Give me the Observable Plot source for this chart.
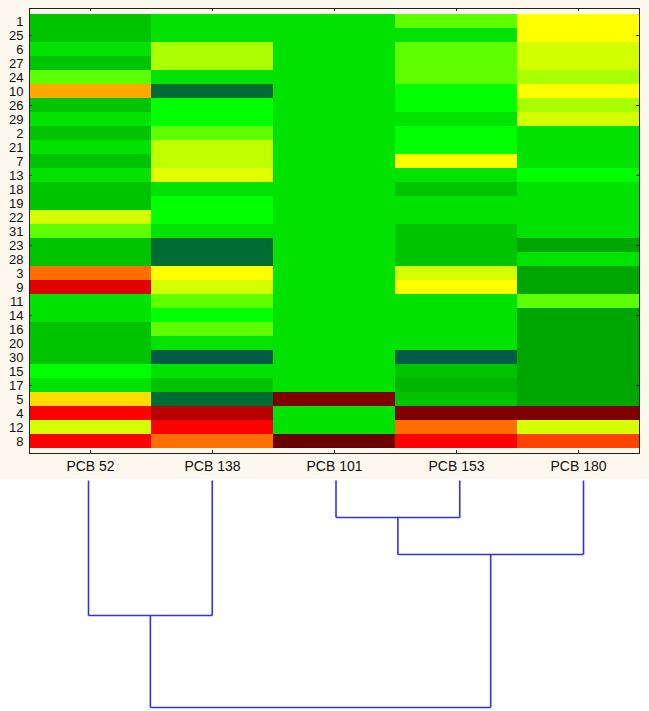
<!DOCTYPE html>
<html><head><meta charset="utf-8">
<script src="https://cdn.jsdelivr.net/npm/d3@7"></script>
<script src="https://cdn.jsdelivr.net/npm/@observablehq/plot@0.6"></script>
<style>
body{margin:0;background:#fff;}
#chart svg{display:block;}
</style></head><body><div id="chart"></div>
<script>
// Rows (samples) in clustered order, top to bottom
const samples = ["1","25","6","27","24","10","26","29","2","21","7","13","18","19","22","31","23","28","3","9","11","14","16","20","30","15","17","5","4","12","8"];
const compounds = ["PCB 52","PCB 138","PCB 101","PCB 153","PCB 180"];
// Relative level per cell (0 = lowest, 18 = highest)
const pcb52  = [3,3,4,3,6,11,3,4,3,4,3,4,3,3,8,6,3,3,12,15,4,4,3,3,3,5,4,10,14,8,14];
const pcb138 = [4,4,7,7,4,1,5,5,6,7.5,7.5,8.3,4,5,5,4,1,1,9,8,6,5,6,4,0,4,3,1,16,14,12];
const pcb101 = [4,4,4,4,4,4,4,4,4,4,4,4,4,4,4,4,4,4,4,4,4,4,4,4,4,4,4,17,4,4,18];
const pcb153 = [6,4,6,6,6,5,5,4,5,5,9,4,3,4,4,3,3,3,8,9,4,4,4,4,0,3,2.5,3,17,12,14];
const pcb180 = [9,9,8,8,7,9,7,8,4,4,4,5,4,4,4,4,2,4,2,2,6,2,2,2,2,2,2,2,17,8,13];
const series = [pcb52, pcb138, pcb101, pcb153, pcb180];
// Colour for each level
const levelColors = ["#005c48","#006c34","#00a600","#00c400","#00e200","#00ff00","#5eff00","#aaff00","#d4ff00","#ffff00","#ffdc00","#ffa800","#ff6e00","#ff4200","#ff0000","#e00000","#b40000","#800000","#6c0000"];
const tickRows = ["25","26","13","23","14","17"];
// Dendrogram of compounds (linkage distances)
const merges = [
  {id:"m1", a:"PCB 101", b:"PCB 153", height:0.163},
  {id:"m2", a:"m1", b:"PCB 180", height:0.326},
  {id:"m3", a:"PCB 52", b:"PCB 138", height:0.595},
  {id:"m4", a:"m3", b:"m2", height:1.0}
];

const cells = compounds.flatMap((c, j) => samples.map((s, i) => ({compound: c, sample: s, level: series[j][i]})));

const W = 649, H1 = 479, ML = 29, MR = 10, MT = 8, MB = 26;
const pw = W - ML - MR, ph = H1 - MT - MB;
const font = "'Liberation Sans', Arial, sans-serif";

const heat = Plot.plot({
  width: W, height: H1,
  marginLeft: ML, marginRight: MR, marginTop: MT, marginBottom: MB,
  style: {background: "#fdf8ee", fontFamily: font, fontSize: "14px", color: "#111"},
  x: {domain: compounds, padding: 0, label: null},
  y: {domain: samples, padding: 0, label: null},
  color: {type: "linear", domain: d3.range(levelColors.length), range: levelColors, interpolate: "rgb"},
  marks: [
    Plot.cell(cells, {x: "compound", y: "sample", fill: "level"}),
    Plot.frame({stroke: "#222", strokeWidth: 1}),
    Plot.tickY(tickRows, {y: d => d, insetRight: pw - 3, stroke: "#222"}),
    Plot.tickY(tickRows, {y: d => d, insetLeft: pw - 3, stroke: "#222"}),
    Plot.tickX(compounds, {x: d => d, insetBottom: ph - 3, stroke: "#222"}),
    Plot.tickX(compounds, {x: d => d, insetTop: ph - 3, stroke: "#222"}),
    Plot.axisX({anchor: "bottom", tickSize: 0, tickPadding: 8, fontSize: 14, label: null}),
    Plot.axisY({anchor: "left", tickSize: 0, tickPadding: 6, fontSize: 13, label: null})
  ]
});

// Dendrogram segments derived from merges
const nodeX = new Map(compounds.map((d, i) => [d, i]));
const nodeH = new Map(compounds.map(d => [d, 0]));
const segments = [];
for (const m of merges) {
  const xa = nodeX.get(m.a), xb = nodeX.get(m.b), ha = nodeH.get(m.a), hb = nodeH.get(m.b);
  segments.push({x1: xa, y1: ha, x2: xa, y2: m.height});
  segments.push({x1: xb, y1: hb, x2: xb, y2: m.height});
  segments.push({x1: xa, y1: m.height, x2: xb, y2: m.height});
  nodeX.set(m.id, (xa + xb) / 2);
  nodeH.set(m.id, m.height);
}

const dendro = Plot.plot({
  width: W, height: 711 - H1,
  margin: 0,
  style: {background: "#fff"},
  x: {type: "linear", domain: [0, compounds.length - 1], range: [88, 583], axis: null},
  y: {type: "linear", domain: [0, 1], range: [1, 228], axis: null},
  marks: [
    Plot.link(segments, {x1: "x1", y1: "y1", x2: "x2", y2: "y2", stroke: "#3232dc", strokeWidth: 1.6})
  ]
});

document.getElementById("chart").append(heat, dendro);
</script>
</body></html>
